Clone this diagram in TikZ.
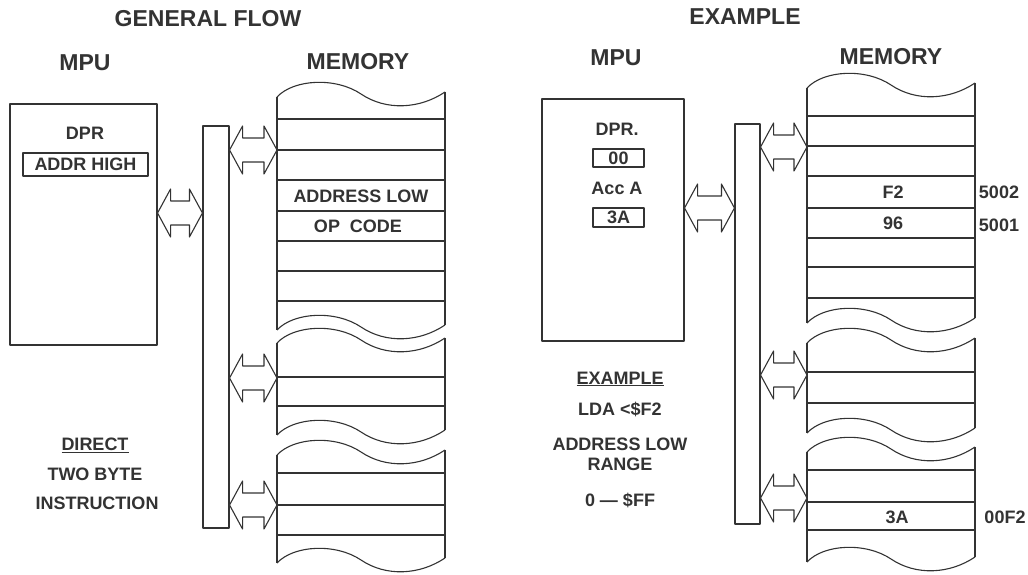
\documentclass[tikz,border=0pt]{standalone}
\usepackage{fontspec}
\setmainfont{Liberation Sans}
\usetikzlibrary{calc}
\definecolor{ink}{HTML}{333333}
\tikzset{
  ln/.style={draw=ink, line width=1.1pt, line join=round},
  txt/.style={font=\fontsize{18}{20}\selectfont\bfseries, text=ink, inner sep=0pt},
  ttl/.style={font=\fontsize{23}{25}\selectfont\bfseries, text=ink, inner sep=0pt},
  boxn/.style={ln, inner sep=0pt},
}
\newcommand\dblarr[2]{%
  \draw[ln,fill=white] (#1) -- ++(13,-24) -- ++(0,12) -- ($(#2)+(-13,-12)$) -- ++(0,-12) -- (#2)
    -- ++(-13,24) -- ++(0,-12) -- ($(#1)+(13,12)$) -- ++(0,12) -- cycle;}
\newcommand\wave[3]{%
  \draw[ln] (#1,#3) .. controls ({#1+0.1*(#2-#1)},{#3-18}) and ({#1+0.35*(#2-#1)},{#3-20}) .. ({#1+0.5*(#2-#1)},{#3-3})
    .. controls ({#1+0.65*(#2-#1)},{#3+14}) and ({#1+0.85*(#2-#1)},{#3+12}) .. (#2,{#3-5});}
\newcommand\memsec[4]{% x0 x1 ytop ybot
  \wave{#1}{#2}{#3}\wave{#1}{#2}{#4}%
  \draw[ln] (#1,#3) -- (#1,#4);
  \draw[ln] (#2,{#3-5}) -- (#2,{#4-5});}
\newcommand\hl[3]{\draw[ln] (#1,#3) -- (#2,#3);}
\begin{document}
\begin{tikzpicture}[x=1pt,y=-1pt]
\useasboundingbox[fill=white] (0,0) rectangle (1028,575);

% ================= LEFT: GENERAL FLOW =================
\node[ttl] (tA) at (208,19) {GENERAL FLOW};
\node[ttl] (mpuTA) at (85,63) {MPU};
\node[ttl] (memTA) at (358,62) {MEMORY};

\node[boxn, minimum width=147, minimum height=241] (mpuA) at (83.5,224.5) {};
\node[txt] (dprA) at (85,133) {DPR};
\node[boxn, txt, minimum width=125, minimum height=23] (addrA) at (85.5,164.5) {ADDR HIGH};

\node[boxn, fill=white, minimum width=26, minimum height=402] (busA) at (216,327) {};

% memory sections
\memsec{277}{445}{97}{330}
\foreach \y in {119,150,180,211,241,271,301} {\hl{277}{445}{\y}}
\memsec{277}{445}{343}{435}
\foreach \y in {377,406} {\hl{277}{445}{\y}}
\memsec{277}{445}{455}{563}
\foreach \y in {473,505,535} {\hl{277}{445}{\y}}
\node[txt] (adlA) at (361,196) {ADDRESS LOW};
\node[txt] (opA) at (358,226) {OP\ \ CODE};

% arrows
\coordinate (a1l) at (mpuA.east |- 0,213);
\coordinate (a1r) at (busA.west |- 0,213);
\dblarr{a1l}{a1r}
\coordinate (a2l) at (busA.east |- 0,150);
\coordinate (a2r) at (277,150);
\dblarr{a2l}{a2r}
\coordinate (a3l) at (busA.east |- 0,378);
\coordinate (a3r) at (277,378);
\dblarr{a3l}{a3r}
\coordinate (a4l) at (busA.east |- 0,505);
\coordinate (a4r) at (277,505);
\dblarr{a4l}{a4r}

\node[txt] (dirA) at (95,445) {\underline{DIRECT}};
\node[txt] (twoA) at (95,474) {TWO BYTE};
\node[txt] (insA) at (97,503) {INSTRUCTION};

% ================= RIGHT: EXAMPLE =================
\node[ttl] (tB) at (745,17) {EXAMPLE};
\node[ttl] (mpuTB) at (616,58) {MPU};
\node[ttl] (memTB) at (891,57) {MEMORY};

\node[boxn, minimum width=142, minimum height=242] (mpuB) at (613,220) {};
\node[txt] (dprB) at (617,129) {DPR.};
\node[boxn, txt, minimum width=51, minimum height=18] (r00) at (618.5,158) {00};
\node[txt] (accB) at (617,188) {Acc A};
\node[boxn, txt, minimum width=51, minimum height=19] (r3a) at (618.5,217.5) {3A};

\node[boxn, fill=white, minimum width=25, minimum height=400] (busB) at (747.5,324) {};

\memsec{807}{975}{88}{323}
\foreach \y in {116,146,176,208,238,267,298} {\hl{807}{975}{\y}}
\memsec{807}{975}{343}{433}
\foreach \y in {372,403} {\hl{807}{975}{\y}}
\memsec{807}{975}{452}{562}
\foreach \y in {470,502,530} {\hl{807}{975}{\y}}

\node[txt] (f2) at (893,192) {F2};
\node[txt] (n96) at (893,223) {96};
\node[txt] (a5002) at (999,192) {5002};
\node[txt] (a5001) at (999,225) {5001};
\node[txt] (m3a) at (897,517) {3A};
\node[txt] (a00f2) at (1005,517) {00F2};

\coordinate (b1l) at (mpuB.east |- 0,208);
\coordinate (b1r) at (busB.west |- 0,208);
\dblarr{b1l}{b1r}
\coordinate (b2l) at (busB.east |- 0,147);
\coordinate (b2r) at (807,147);
\dblarr{b2l}{b2r}
\coordinate (b3l) at (busB.east |- 0,375);
\coordinate (b3r) at (807,375);
\dblarr{b3l}{b3r}
\coordinate (b4l) at (busB.east |- 0,498);
\coordinate (b4r) at (807,498);
\dblarr{b4l}{b4r}

\node[txt] (exB) at (620,379) {\underline{EXAMPLE}};
\node[txt] (ldaB) at (620,409) {LDA \textless\$F2};
\node[txt] (adlB) at (620,444) {ADDRESS LOW};
\node[txt] (rngB) at (620,464) {RANGE};
\node[txt] (rangeB) at (620,500) {0 --- \$FF};
\end{tikzpicture}
\end{document}
